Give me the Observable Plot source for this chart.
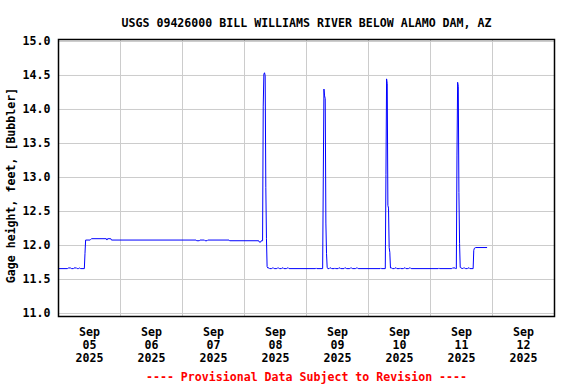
<!DOCTYPE html>
<html>
<head>
<meta charset="utf-8">
<script src="https://cdn.jsdelivr.net/npm/d3@7"></script>
<script src="https://cdn.jsdelivr.net/npm/@observablehq/plot@0.6"></script>
<style>
  html, body { margin: 0; padding: 0; background: #ffffff; }
</style>
</head>
<body>
<div id="chart"></div>
<script>
const title = "USGS 09426000 BILL WILLIAMS RIVER BELOW ALAMO DAM, AZ";
const yLabel = "Gage height, feet, [Bubbler]";
const footer = "---- Provisional Data Subject to Revision ----";

// hours after 2025-09-05 00:00
const hours = [
  0, 3.5, 3.75, 4.75, 5.0, 5.75, 6.0, 7.0, 7.25, 7.75, 8.0, 8.25, 8.5, 10.0,
  10.25, 10.5, 12.25, 12.5, 12.75, 18.5, 18.75, 19.0, 20.25, 20.5,
  53.25, 53.5, 54.5, 54.75, 56.5, 56.75, 57.5, 57.75, 66.0, 66.25, 77.5, 77.75, 78.25, 78.5, 79.0,
  79.25, 79.5, 79.75, 80.0, 80.25, 80.5, 80.75, 81.0,
  81.5, 81.75, 82.5, 82.75, 83.25, 83.5, 84.5, 84.75, 85.25, 85.5, 86.25, 86.5, 87.0, 87.25,
  88.25, 88.5, 89.0, 89.25, 99.5, 99.75, 100.0, 102.25,
  102.5, 102.75, 103.0, 103.25, 103.5, 103.75, 104.0, 104.25,
  104.75, 105.0, 105.5, 105.75, 106.75, 107.0, 107.25, 108.25, 108.5, 109.0, 109.25,
  110.5, 110.75, 111.25, 111.5, 112.75, 113.0, 113.5, 113.75, 115.0, 115.25, 115.75, 116.0,
  124.5, 124.75, 125.0, 126.5,
  126.75, 127.0, 127.25, 127.5, 127.75, 128.0, 128.25, 128.5,
  129.0, 129.25, 130.0, 130.25, 130.75, 131.0, 132.0, 132.25, 132.5, 133.5, 133.75, 134.25, 134.5,
  135.5, 135.75, 136.25, 136.5, 147.0, 147.25, 147.5, 152.25, 152.5, 153.5, 153.75, 154.0,
  154.25, 154.5, 154.75, 155.0, 155.25, 155.5,
  155.75, 156.5, 156.75, 157.25, 157.5, 158.25, 158.5, 159.0, 159.25, 160.5,
  160.75, 161.0, 161.5, 165.75
];
const gage = [
  11.66, 11.66, 11.67, 11.67, 11.66, 11.66, 11.67, 11.67, 11.66, 11.66, 11.67, 11.67, 11.66, 11.66,
  11.88, 12.08, 12.08, 12.09, 12.10, 12.10, 12.08, 12.10, 12.10, 12.08,
  12.08, 12.07, 12.07, 12.08, 12.08, 12.07, 12.07, 12.08, 12.08, 12.07, 12.07, 12.05, 12.05, 12.07, 12.07,
  14.05, 14.52, 14.54, 14.50, 12.85, 12.10, 11.69, 11.67,
  11.67, 11.66, 11.66, 11.67, 11.67, 11.66, 11.66, 11.67, 11.67, 11.66, 11.66, 11.67, 11.67, 11.66,
  11.66, 11.67, 11.67, 11.66, 11.66, 11.67, 11.66, 11.66,
  13.00, 14.30, 14.20, 14.16, 12.33, 11.88, 11.68, 11.66,
  11.66, 11.67, 11.67, 11.66, 11.66, 11.67, 11.66, 11.66, 11.67, 11.67, 11.66,
  11.66, 11.67, 11.67, 11.66, 11.66, 11.67, 11.67, 11.66, 11.66, 11.67, 11.67, 11.66,
  11.66, 11.67, 11.66, 11.66,
  13.04, 14.45, 14.38, 12.59, 12.55, 11.97, 11.90, 11.67,
  11.67, 11.66, 11.66, 11.67, 11.67, 11.66, 11.66, 11.67, 11.66, 11.66, 11.67, 11.67, 11.66,
  11.66, 11.67, 11.67, 11.66, 11.66, 11.67, 11.66, 11.66, 11.67, 11.67, 11.66, 11.66,
  13.33, 14.40, 14.34, 12.78, 12.03, 11.68,
  11.67, 11.66, 11.67, 11.67, 11.66, 11.66, 11.67, 11.67, 11.66, 11.66,
  11.93, 11.96, 11.97, 11.97
];

const xTickLabels = [
  "Sep\n05\n2025", "Sep\n06\n2025", "Sep\n07\n2025", "Sep\n08\n2025",
  "Sep\n09\n2025", "Sep\n10\n2025", "Sep\n11\n2025", "Sep\n12\n2025"
];
const yTicks = [11.0, 11.5, 12.0, 12.5, 13.0, 13.5, 14.0, 14.5, 15.0];

const base = Date.UTC(2025, 8, 5);
const DAY = 864e5;
const data = hours.map((h, i) => ({ t: new Date(base + h * 3600e3), v: gage[i] }));
const labelDates = xTickLabels.map((_, i) => new Date(base + (i + 0.5) * DAY));
const gridDates = d3.range(1, 8).map(i => new Date(base + i * DAY));

const chart = Plot.plot({
  width: 576,
  height: 384,
  marginLeft: 58,
  marginRight: 22,
  marginTop: 39,
  marginBottom: 68,
  style: {
    fontFamily: "'DejaVu Sans Mono', monospace",
    fontSize: "11.6px",
    fontWeight: "bold",
    background: "#ffffff",
    color: "#000000"
  },
  x: { type: "utc", domain: [new Date(base), new Date(base + 8 * DAY)], axis: null },
  y: { domain: [10.956, 15.029], axis: null },
  marks: [
    Plot.gridX(gridDates, { stroke: "#cccccc", strokeOpacity: 1, strokeWidth: 1 }),
    Plot.gridY(yTicks, { stroke: "#cccccc", strokeOpacity: 1, strokeWidth: 1 }),
    Plot.line(data, { x: "t", y: "v", stroke: "#0000ff", strokeWidth: 1 }),
    Plot.frame({ stroke: "#000000", strokeWidth: 1.5 }),
    Plot.axisY({
      ticks: yTicks, tickFormat: d => d.toFixed(1), tickSize: 0, tickPadding: 8,
      label: null, fill: "#000000"
    }),
    Plot.axisX({
      ticks: labelDates,
      tickFormat: d => xTickLabels[Math.round((d - base) / DAY - 0.5)],
      tickSize: 0, tickPadding: 10, lineHeight: 1.14, label: null, fill: "#000000"
    }),
    Plot.text([title], { frameAnchor: "top", dy: -16.6, lineAnchor: "middle", fill: "#000000" }),
    Plot.text([yLabel], { frameAnchor: "left", textAnchor: "middle", dx: -47, dy: 7.5, rotate: -90, lineAnchor: "middle", fill: "#000000" }),
    Plot.text([footer], { frameAnchor: "bottom", dy: 61, lineAnchor: "middle", fill: "#ff0000" })
  ]
});
document.getElementById("chart").appendChild(chart);
</script>
</body>
</html>
